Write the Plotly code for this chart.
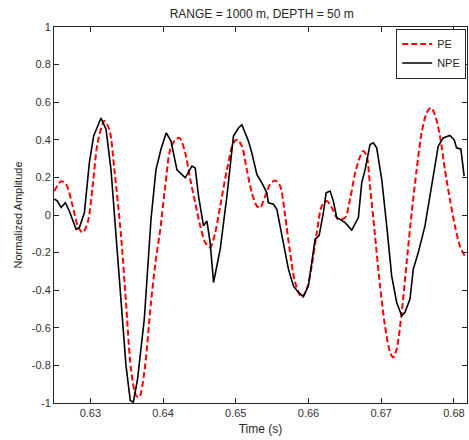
import plotly.graph_objects as go

# NPE (black, solid)
npe_t = [0.62505, 0.62543, 0.62598, 0.62657, 0.62712, 0.62804, 0.62849, 0.62918, 0.62986, 0.63045,
         0.63147, 0.63216, 0.63284, 0.63353, 0.63422, 0.63490, 0.63549, 0.63591, 0.63650, 0.63742,
         0.63834, 0.63902, 0.63971, 0.64044, 0.64109, 0.64191, 0.64305, 0.64397, 0.64442, 0.64488,
         0.64556, 0.64603, 0.64648, 0.64694, 0.64786, 0.64878, 0.64968, 0.65037, 0.65084, 0.65129,
         0.65174, 0.65221, 0.65290, 0.65359, 0.65427, 0.65449, 0.65518, 0.65565, 0.65633, 0.65724,
         0.65793, 0.65861, 0.65930, 0.65999, 0.66045, 0.66091, 0.66146, 0.66205, 0.66242, 0.66297,
         0.66342, 0.66389, 0.66434, 0.66503, 0.66595, 0.66686, 0.66732, 0.66778, 0.66846, 0.66892,
         0.66938, 0.67007, 0.67076, 0.67144, 0.67213, 0.67282, 0.67327, 0.67396, 0.67441, 0.67510,
         0.67602, 0.67694, 0.67784, 0.67853, 0.67945, 0.68004, 0.68037, 0.68096, 0.68141]
npe_v = [0.085, 0.075, 0.04, 0.065, 0.02, -0.076, -0.067, 0.012, 0.277, 0.42,
         0.516, 0.455, 0.24, -0.11, -0.465, -0.80, -0.987, -0.996, -0.87, -0.553,
         -0.023, 0.24, 0.35, 0.437, 0.393, 0.24, 0.198, 0.26, 0.25, 0.10,
         -0.058, -0.032, -0.147, -0.359, -0.182, 0.10, 0.42, 0.463, 0.48, 0.437,
         0.393, 0.33, 0.216, 0.171, 0.118, 0.065, 0.057, 0.03, -0.11, -0.288,
         -0.377, -0.412, -0.433, -0.377, -0.253, -0.129, -0.11, 0.012, 0.118, 0.127,
         0.074, -0.014, -0.023, -0.041, -0.08, -0.014, 0.171, 0.24, 0.375, 0.384,
         0.357, 0.19, -0.058, -0.324, -0.465, -0.536, -0.518, -0.447, -0.288, -0.2,
         -0.058, 0.154, 0.366, 0.41, 0.423, 0.40, 0.357, 0.35, 0.207]

# PE (red, dashed)
pe_t = [0.62505, 0.62598, 0.62666, 0.62757, 0.62826, 0.62894, 0.62963, 0.63032, 0.63100, 0.63192,
        0.63261, 0.63330, 0.63422, 0.63490, 0.63559, 0.63628, 0.63673, 0.63742, 0.63834, 0.63893,
        0.63962, 0.64030, 0.64099, 0.64168, 0.64227, 0.64305, 0.64374, 0.64442, 0.64511, 0.64580,
        0.64648, 0.64717, 0.64786, 0.64878, 0.64968, 0.65023, 0.65084, 0.65152, 0.65221, 0.65290,
        0.65335, 0.65404, 0.65473, 0.65541, 0.65610, 0.65679, 0.65747, 0.65816, 0.65908, 0.65977,
        0.66045, 0.66114, 0.66183, 0.66251, 0.66320, 0.66411, 0.66503, 0.66571, 0.66640, 0.66709,
        0.66754, 0.66801, 0.66846, 0.66915, 0.66984, 0.67052, 0.67121, 0.67166, 0.67213, 0.67282,
        0.67350, 0.67419, 0.67488, 0.67556, 0.67625, 0.67684, 0.67739, 0.67808, 0.67876, 0.67945,
        0.68014, 0.68082, 0.68151, 0.68180]
pe_v = [0.127, 0.18, 0.163, 0.048, -0.058, -0.094, -0.041, 0.154, 0.384, 0.50,
        0.455, 0.242, -0.11, -0.465, -0.819, -0.96, -0.969, -0.836, -0.465, -0.26,
        -0.075, 0.154, 0.35, 0.40, 0.41, 0.33, 0.19, 0.065, -0.058, -0.147,
        -0.173, -0.094, 0.048, 0.24, 0.384, 0.40, 0.366, 0.24, 0.118, 0.048,
        0.039, 0.10, 0.163, 0.184, 0.154, -0.005, -0.2, -0.359, -0.439, -0.394,
        -0.27, -0.094, 0.048, 0.074, 0.039, -0.023, -0.014, 0.083, 0.22, 0.31,
        0.34, 0.313, 0.154, -0.11, -0.377, -0.589, -0.73, -0.757, -0.713, -0.518,
        -0.253, 0.012, 0.242, 0.437, 0.543, 0.57, 0.534, 0.42, 0.242, 0.083,
        -0.058, -0.164, -0.217, -0.225]

x_ticks = [0.63, 0.64, 0.65, 0.66, 0.67, 0.68]
x_tick_labels = ["0.63", "0.64", "0.65", "0.66", "0.67", "0.68"]
y_ticks = [-1, -0.8, -0.6, -0.4, -0.2, 0, 0.2, 0.4, 0.6, 0.8, 1]
y_tick_labels = ["-1", "-0.8", "-0.6", "-0.4", "-0.2", "0", "0.2", "0.4", "0.6", "0.8", "1"]

FONT = "Liberation Sans, Arial, Helvetica, sans-serif"

fig = go.Figure()
fig.add_trace(go.Scatter(x=pe_t, y=pe_v, mode="lines", name="PE",
                         line=dict(color="#ff0000", width=2, dash="6px,3px", shape="spline", smoothing=0.8)))
fig.add_trace(go.Scatter(x=npe_t, y=npe_v, mode="lines", name="NPE",
                         line=dict(color="#000000", width=1.6)))

axis_common = dict(showline=True, linecolor="#262626", linewidth=1, mirror="ticks",
                   ticks="inside", ticklen=5, tickcolor="#262626", showgrid=False,
                   zeroline=False, tickfont=dict(family=FONT, size=11, color="#333333"))

fig.update_layout(
    width=469, height=440,
    margin=dict(l=54, r=2, t=27, b=37),
    paper_bgcolor="white", plot_bgcolor="white",
    title=dict(text="RANGE = 1000 m, DEPTH = 50 m", x=0.558, xanchor="center",
               y=0.968, yanchor="middle", font=dict(family=FONT, size=12, color="#262626")),
    xaxis=dict(range=[0.625, 0.6818], tickvals=x_ticks, ticktext=x_tick_labels,
               title=dict(text="Time (s)", font=dict(family=FONT, size=12, color="#262626"), standoff=6),
               **axis_common),
    yaxis=dict(range=[-1, 1], tickvals=y_ticks, ticktext=y_tick_labels,
               title=dict(text="Normalized Amplitude", font=dict(family=FONT, size=11, color="#262626"), standoff=6),
               **axis_common),
    legend=dict(x=0.998, y=0.996, xanchor="right", yanchor="top",
                bgcolor="white", bordercolor="#262626", borderwidth=1,
                font=dict(family=FONT, size=11, color="#262626"),
                tracegroupgap=0, itemwidth=30),
    showlegend=True,
)

fig.write_html("out.html", config={"displayModeBar": False},
               post_script="document.body.style.margin='0';document.body.style.padding='0';")
